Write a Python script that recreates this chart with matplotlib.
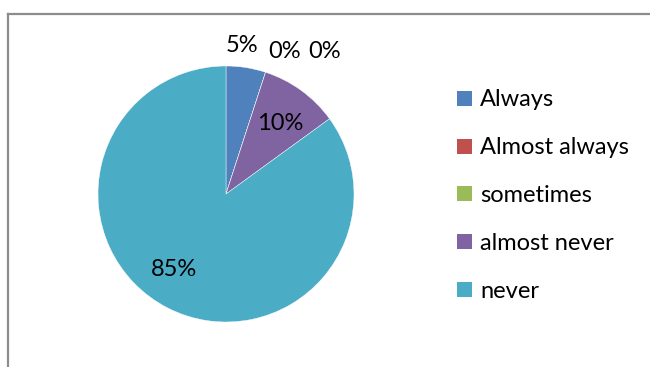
import matplotlib.pyplot as plt
from matplotlib.patches import Patch
from matplotlib.lines import Line2D

categories = ["Always", "Almost always", "sometimes", "almost never", "never"]
shares = [5, 0, 0, 10, 85]
colors = ["#4F81BD", "#C0504D", "#9BBB59", "#8064A2", "#4BACC6"]
# where each percentage label sits, in pie-radius units
label_pos = [(0.125, 1.16), (0.46, 1.11), (0.77, 1.11), (0.42, 0.55), (-0.41, -0.59)]

plt.rcParams["font.family"] = ["Lato", "DejaVu Sans"]
FS = 17

W, H = 650, 367
fig = plt.figure(figsize=(W / 100, H / 100), dpi=100)

# frame around the chart area (top and left only)
fig.add_artist(Line2D([7.5 / W, 1], [1 - 14 / H, 1 - 14 / H], color="#8c8c8c", lw=1.6))
fig.add_artist(Line2D([7.5 / W, 7.5 / W], [0, 1 - 14 / H], color="#8c8c8c", lw=1.6))

cx, cy, r = 226, 194, 128
ax = fig.add_axes([(cx - r) / W, (H - cy - r) / H, 2 * r / W, 2 * r / H])
wedges, _ = ax.pie(shares, colors=colors, startangle=90, counterclock=False,
                   radius=1, wedgeprops=dict(linewidth=0.3, edgecolor="white"))
ax.set_xlim(-1, 1)
ax.set_ylim(-1, 1)
ax.set_aspect("auto")
ax.axis("off")

for val, (x, y) in zip(shares, label_pos):
    ax.text(x, y, f"{val}%", ha="center", va="center", fontsize=FS,
            color="black", clip_on=False)

handles = [Patch(facecolor=c, edgecolor="none") for c in colors]
fig.legend(handles, categories, loc="upper left", bbox_to_anchor=(448 / W, 1 - 80 / H),
           frameon=False, fontsize=FS, handlelength=0.6, handleheight=0.6,
           handletextpad=0.35, labelspacing=1.14, borderaxespad=0)

fig.savefig("out.png", dpi=100)
